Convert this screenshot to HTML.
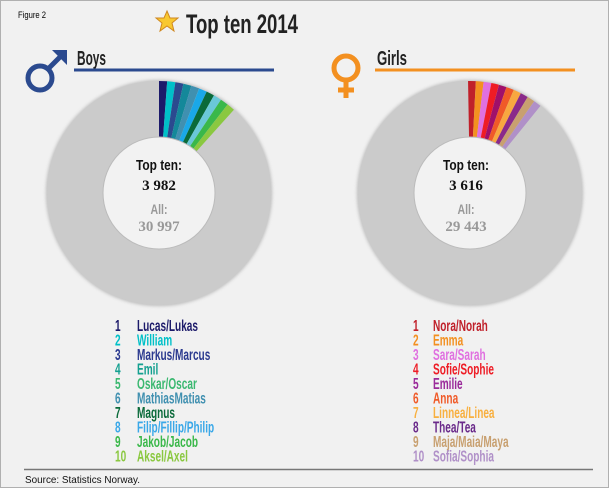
<!DOCTYPE html>
<html><head><meta charset="utf-8"><style>
body{margin:0;width:610px;height:488px;background:#fff;overflow:hidden}
svg{display:block}
.c{font-family:"Liberation Sans Narrow","Liberation Sans",sans-serif;font-weight:bold}
</style></head><body>
<svg width="610" height="488" viewBox="0 0 610 488" xmlns="http://www.w3.org/2000/svg">
<rect x="0.5" y="0.5" width="608" height="487" fill="#f1f1f1" stroke="#b0b0b0"/>
<text x="18" y="18" font-family="Liberation Sans,sans-serif" font-size="9" transform="translate(18,0) scale(0.85,1) translate(-18,0)">Figure 2</text>
<polygon points="167,11 170,18 178,18 172,23 174,31 167,26 160,31 162,23 156,18 164,18" fill="#f8c830" stroke="#d08820" stroke-width="1"/>
<text x="186" y="33" class="c" font-size="27" fill="#222" textLength="112" lengthAdjust="spacingAndGlyphs">Top ten 2014</text>
<circle cx="40" cy="78" r="12" fill="none" stroke="#2b4a8f" stroke-width="5"/>
<line x1="48" y1="69" x2="60" y2="57" stroke="#2b4a8f" stroke-width="5"/>
<polygon points="52,50 67,50 67,65" fill="#2b4a8f"/>
<text x="77" y="65" class="c" font-size="20" fill="#222" textLength="29" lengthAdjust="spacingAndGlyphs">Boys</text>
<line x1="74" y1="70" x2="274" y2="70" stroke="#2b4a8f" stroke-width="3"/>
<circle cx="346" cy="68" r="12" fill="none" stroke="#f39020" stroke-width="5"/>
<line x1="346" y1="80" x2="346" y2="98" stroke="#f39020" stroke-width="5"/>
<line x1="338" y1="90" x2="354" y2="90" stroke="#f39020" stroke-width="5"/>
<text x="377" y="65" class="c" font-size="20" fill="#222" textLength="30" lengthAdjust="spacingAndGlyphs">Girls</text>
<line x1="375" y1="70" x2="575" y2="70" stroke="#f39020" stroke-width="3"/>
<defs><filter id="sh"><feGaussianBlur stdDeviation="1.5"/></filter></defs>
<g transform="translate(159,193)">
<circle r="113" fill="#999" filter="url(#sh)" opacity=".6"/>
<circle r="84" fill="none" stroke="#cbcbcb" stroke-width="56"/>
<g transform="rotate(-90)" fill="none" stroke-width="56">
<circle r="84" pathLength="360" stroke="#1c1a6a" stroke-dasharray="4.2 360" transform="rotate(0)"/>
<circle r="84" pathLength="360" stroke="#00c0c8" stroke-dasharray="4.2 360" transform="rotate(4.2)"/>
<circle r="84" pathLength="360" stroke="#2b4a8f" stroke-dasharray="4.2 360" transform="rotate(8.4)"/>
<circle r="84" pathLength="360" stroke="#14889a" stroke-dasharray="4.2 360" transform="rotate(12.6)"/>
<circle r="84" pathLength="360" stroke="#4090b0" stroke-dasharray="4.2 360" transform="rotate(16.8)"/>
<circle r="84" pathLength="360" stroke="#1aa8e8" stroke-dasharray="4.2 360" transform="rotate(21)"/>
<circle r="84" pathLength="360" stroke="#0a6a3a" stroke-dasharray="4.2 360" transform="rotate(25.2)"/>
<circle r="84" pathLength="360" stroke="#6ac8d8" stroke-dasharray="4.2 360" transform="rotate(29.4)"/>
<circle r="84" pathLength="360" stroke="#3ab84a" stroke-dasharray="4.2 360" transform="rotate(33.6)"/>
<circle r="84" pathLength="360" stroke="#8ac840" stroke-dasharray="4.2 360" transform="rotate(37.8)"/>
</g>
<circle r="56" fill="#f2f2f2" stroke="#bbb" stroke-width="1"/>
</g>
<text x="159" y="170" text-anchor="middle" class="c" font-size="15" fill="#111" textLength="46" lengthAdjust="spacingAndGlyphs">Top ten:</text>
<text x="159" y="190" text-anchor="middle" font-family="Liberation Serif,serif" font-weight="bold" font-size="15" fill="#111">3 982</text>
<text x="159" y="214" text-anchor="middle" class="c" font-size="14" fill="#999" textLength="17" lengthAdjust="spacingAndGlyphs">All:</text>
<text x="159" y="231" text-anchor="middle" font-family="Liberation Serif,serif" font-weight="bold" font-size="15" fill="#999">30 997</text>
<g transform="translate(470,193)">
<circle r="113" fill="#999" filter="url(#sh)" opacity=".6"/>
<circle r="84" fill="none" stroke="#cbcbcb" stroke-width="56"/>
<g transform="rotate(-90)" fill="none" stroke-width="56">
<circle r="84" pathLength="360" stroke="#c0202a" stroke-dasharray="4 360" transform="rotate(-1)"/>
<circle r="84" pathLength="360" stroke="#f39020" stroke-dasharray="4 360" transform="rotate(3)"/>
<circle r="84" pathLength="360" stroke="#e070e0" stroke-dasharray="4 360" transform="rotate(7)"/>
<circle r="84" pathLength="360" stroke="#ee1c25" stroke-dasharray="4 360" transform="rotate(11)"/>
<circle r="84" pathLength="360" stroke="#a0106a" stroke-dasharray="4 360" transform="rotate(15)"/>
<circle r="84" pathLength="360" stroke="#f05a28" stroke-dasharray="4 360" transform="rotate(19)"/>
<circle r="84" pathLength="360" stroke="#f8a840" stroke-dasharray="4 360" transform="rotate(23)"/>
<circle r="84" pathLength="360" stroke="#8a2a8a" stroke-dasharray="4 360" transform="rotate(27)"/>
<circle r="84" pathLength="360" stroke="#c8a070" stroke-dasharray="4 360" transform="rotate(31)"/>
<circle r="84" pathLength="360" stroke="#b090c8" stroke-dasharray="4 360" transform="rotate(35)"/>
</g>
<circle r="56" fill="#f2f2f2" stroke="#bbb" stroke-width="1"/>
</g>
<text x="466" y="170" text-anchor="middle" class="c" font-size="15" fill="#111" textLength="46" lengthAdjust="spacingAndGlyphs">Top ten:</text>
<text x="466" y="190" text-anchor="middle" font-family="Liberation Serif,serif" font-weight="bold" font-size="15" fill="#111">3 616</text>
<text x="466" y="214" text-anchor="middle" class="c" font-size="14" fill="#999" textLength="17" lengthAdjust="spacingAndGlyphs">All:</text>
<text x="466" y="231" text-anchor="middle" font-family="Liberation Serif,serif" font-weight="bold" font-size="15" fill="#999">29 443</text>
<g class="c" font-size="15.5" transform="translate(115,0) scale(0.65,1)">
<text x="0" y="331" fill="#1c1a6a">1</text><text x="0" y="345.5" fill="#00c0c8">2</text><text x="0" y="360" fill="#2b3a8f">3</text><text x="0" y="374.5" fill="#14a090">4</text><text x="0" y="389" fill="#3ab870">5</text><text x="0" y="403.5" fill="#4090b0">6</text><text x="0" y="418" fill="#0a6a3a">7</text><text x="0" y="432.5" fill="#3aa8e8">8</text><text x="0" y="447" fill="#3ab84a">9</text><text x="0" y="461.5" fill="#8ac840">10</text>
</g>
<g class="c" font-size="15.5" transform="translate(137,0) scale(0.65,1)">
<text x="0" y="331" fill="#1c1a6a">Lucas/Lukas</text>
<text x="0" y="345.5" fill="#00c0c8">William</text>
<text x="0" y="360" fill="#2b3a8f">Markus/Marcus</text>
<text x="0" y="374.5" fill="#14a090">Emil</text>
<text x="0" y="389" fill="#3ab870">Oskar/Oscar</text>
<text x="0" y="403.5" fill="#4090b0">MathiasMatias</text>
<text x="0" y="418" fill="#0a6a3a">Magnus</text>
<text x="0" y="432.5" fill="#3aa8e8">Filip/Fillip/Philip</text>
<text x="0" y="447" fill="#3ab84a">Jakob/Jacob</text>
<text x="0" y="461.5" fill="#8ac840">Aksel/Axel</text>
</g>
<g class="c" font-size="15.5" transform="translate(413,0) scale(0.65,1)">
<text x="0" y="331" fill="#c0202a">1</text><text x="0" y="345.5" fill="#f39020">2</text><text x="0" y="360" fill="#e070e0">3</text><text x="0" y="374.5" fill="#ee1c25">4</text><text x="0" y="389" fill="#9a2a9a">5</text><text x="0" y="403.5" fill="#f05a28">6</text><text x="0" y="418" fill="#f8b040">7</text><text x="0" y="432.5" fill="#6a2a8a">8</text><text x="0" y="447" fill="#c8a070">9</text><text x="0" y="461.5" fill="#b090c8">10</text>
</g>
<g class="c" font-size="15.5" transform="translate(433,0) scale(0.65,1)">
<text x="0" y="331" fill="#c0202a">Nora/Norah</text>
<text x="0" y="345.5" fill="#f39020">Emma</text>
<text x="0" y="360" fill="#e070e0">Sara/Sarah</text>
<text x="0" y="374.5" fill="#ee1c25">Sofie/Sophie</text>
<text x="0" y="389" fill="#9a2a9a">Emilie</text>
<text x="0" y="403.5" fill="#f05a28">Anna</text>
<text x="0" y="418" fill="#f8b040">Linnea/Linea</text>
<text x="0" y="432.5" fill="#6a2a8a">Thea/Tea</text>
<text x="0" y="447" fill="#c8a070">Maja/Maia/Maya</text>
<text x="0" y="461.5" fill="#b090c8">Sofia/Sophia</text>
</g>
<line x1="24" y1="469.5" x2="593" y2="469.5" stroke="#777" stroke-width="1.5"/>
<text x="25" y="483" font-family="Liberation Sans,sans-serif" font-size="10" fill="#111" textLength="115" lengthAdjust="spacingAndGlyphs">Source: Statistics Norway.</text>
</svg>
</body></html>
